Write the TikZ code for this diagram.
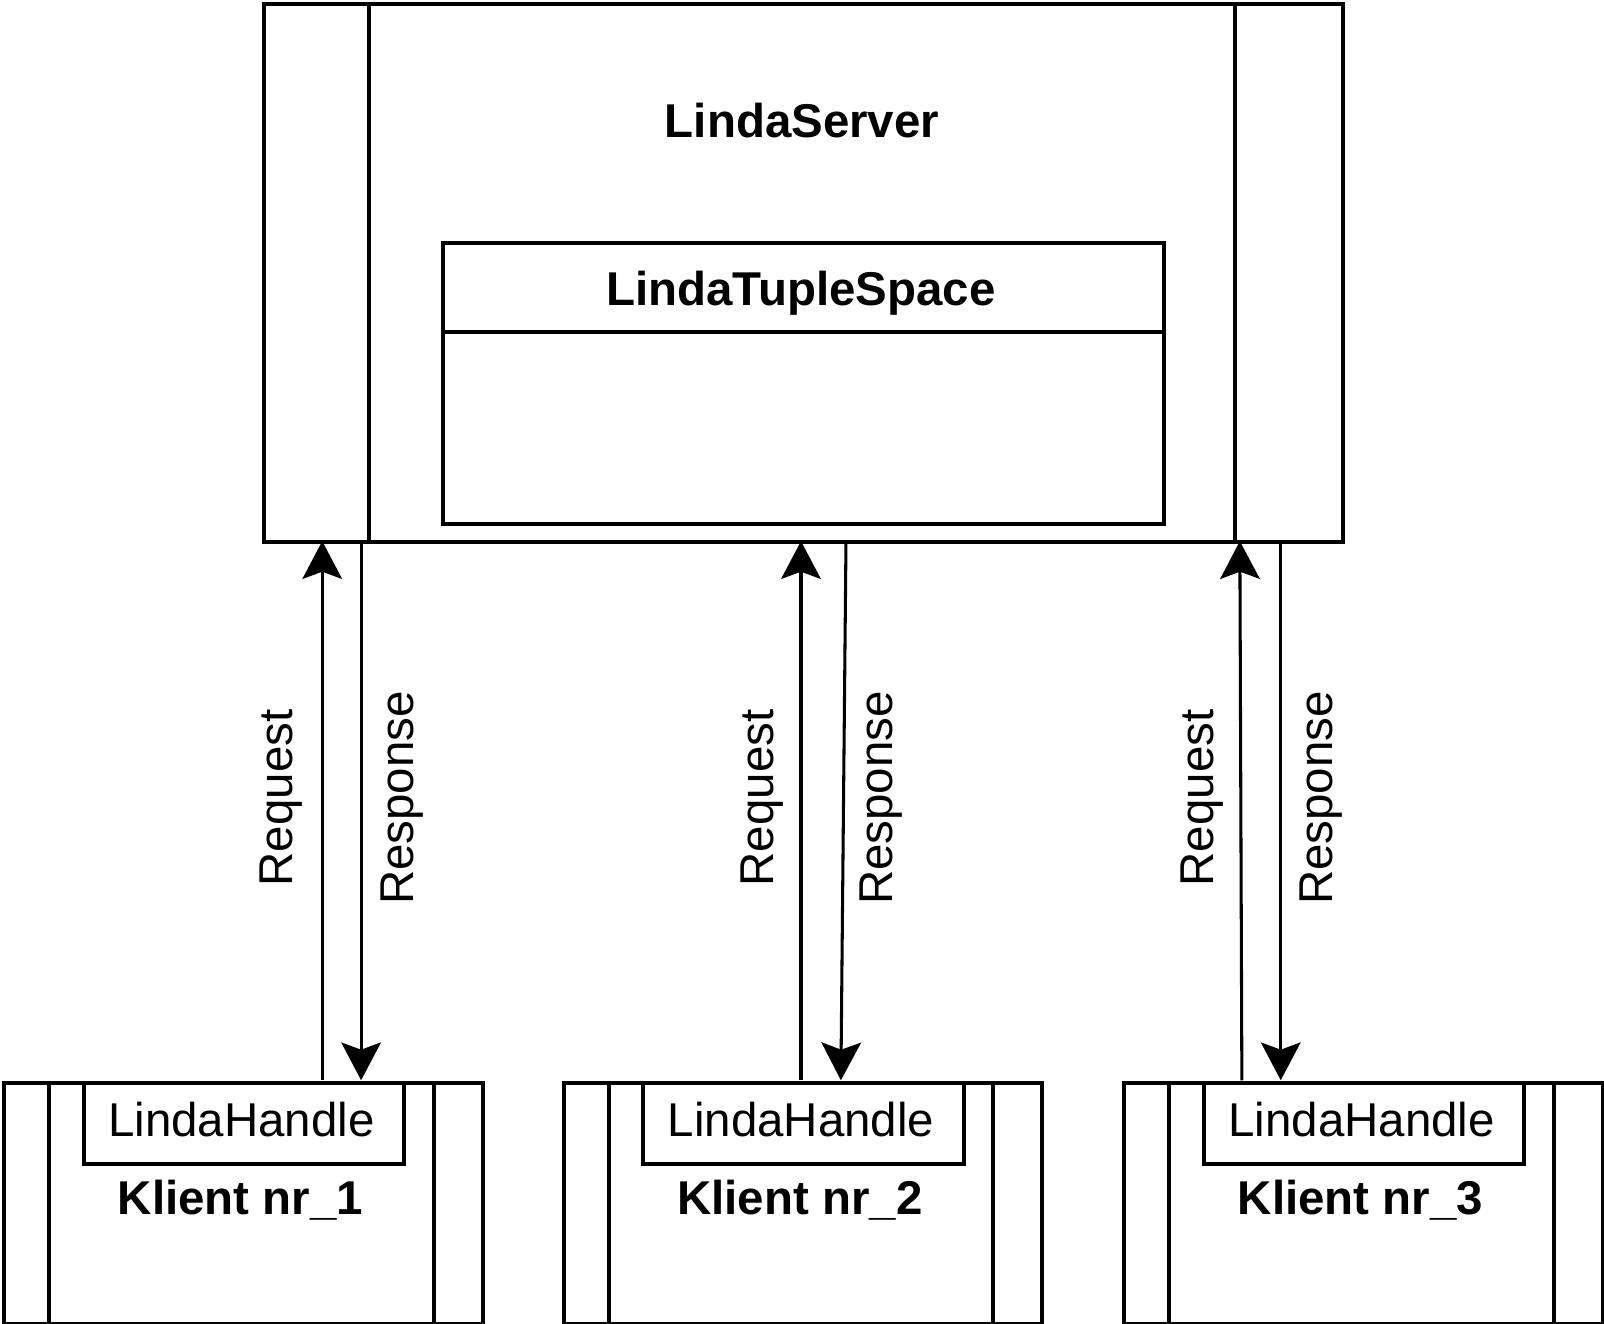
\documentclass[tikz,border=0pt]{standalone}
\usepackage{fontspec}
\setmainfont{Liberation Sans}
\usetikzlibrary{arrows.meta}
\begin{document}
\begin{tikzpicture}[x=0.02cm,y=-0.02cm,
  box/.style={draw,line width=2.2pt,inner sep=0pt,anchor=north west},
  lbl/.style={font=\fontsize{26.4}{30}\selectfont,inner sep=0pt},
  blbl/.style={font=\fontsize{26.4}{30}\selectfont\bfseries,inner sep=0pt},
  conn/.style={line width=1.7pt,-{Stealth[length=21pt,width=22pt,inset=4pt]}},
  div/.style={line width=2.2pt}]
\useasboundingbox (0,0) rectangle (1568,1294);
% server
\node[box,minimum width=1055*0.02cm,minimum height=526*0.02cm] (srv) at (256,2) {};
\draw[div] (361,2) -- (361,528);
\draw[div] (1207,2) -- (1207,528);
\node[blbl] (srvt) at (784,118) {LindaServer};
% tuple space
\node[box,minimum width=705*0.02cm,minimum height=274*0.02cm] (ts) at (431,236) {};
\draw[div] (431,325) -- (1136,325);
\node[blbl] (tst) at (783,287) {LindaTupleSpace};
% clients
\foreach \i/\x in {1/2,2/549,3/1097}{
  \node[box,minimum width=468*0.02cm,minimum height=235*0.02cm] (c\i) at (\x,1057) {};
  \draw[div] (\x+46,1057) -- (\x+46,1292);
  \draw[div] (\x+422,1057) -- (\x+422,1292);
  \node[box,minimum width=313*0.02cm,minimum height=79*0.02cm] (h\i) at (\x+78,1057) {};
  \node[lbl] (ht\i) at (\x+234,1094) {LindaHandle};
  \node[blbl] (ct\i) at (\x+233,1173) {Klient nr\_\i};
}
% connector endpoints
\coordinate (r1a) at (315,1056); \coordinate (r1b) at (315,529);
\coordinate (s1a) at (353,529);  \coordinate (s1b) at (353,1056);
\coordinate (r2a) at (783,1056); \coordinate (r2b) at (783,529);
\coordinate (s2a) at (827,529);  \coordinate (s2b) at (822,1056);
\coordinate (r3a) at (1214,1056); \coordinate (r3b) at (1212,529);
\coordinate (s3a) at (1252,529);  \coordinate (s3b) at (1252,1056);
\draw[conn] (r1a) -- (r1b);
\draw[conn] (s1a) -- (s1b);
\draw[conn] (r2a) -- (r2b);
\draw[conn] (s2a) -- (s2b);
\draw[conn] (r3a) -- (r3b);
\draw[conn] (s3a) -- (s3b);
% labels
\node[lbl,rotate=90] (q1) at (275,780) {Request};
\node[lbl,rotate=90] (p1) at (393,780) {Response};
\node[lbl,rotate=90] (q2) at (745,780) {Request};
\node[lbl,rotate=90] (p2) at (861,780) {Response};
\node[lbl,rotate=90] (q3) at (1175,780) {Request};
\node[lbl,rotate=90] (p3) at (1291,780) {Response};
\end{tikzpicture}
\end{document}
